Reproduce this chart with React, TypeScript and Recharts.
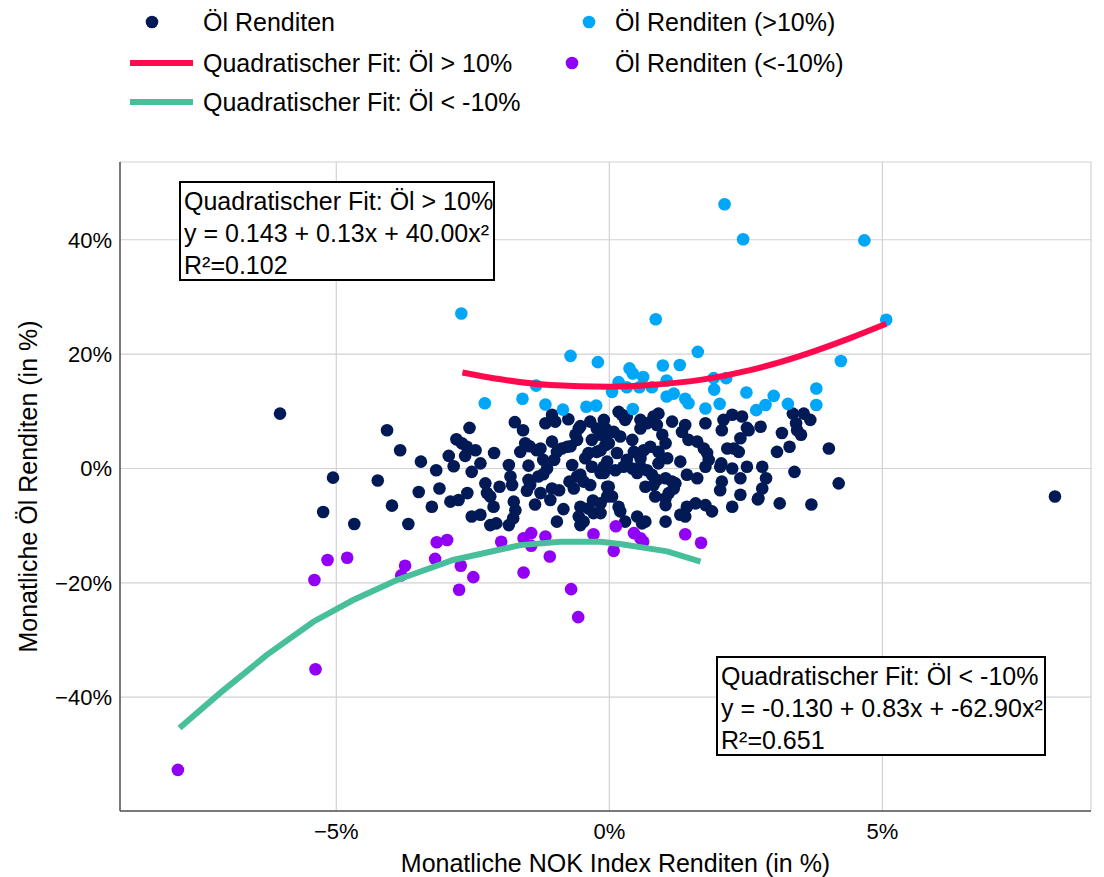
import React from "react";
import {
  CartesianGrid,
  Scatter,
  ScatterChart,
  XAxis,
  YAxis,
} from "recharts";

// monthly returns in %, [NOK index, oil]
const darkPoints: [number, number][] = [
  [-6.03, 9.6], [-5.24, -7.6], [-5.06, -1.6], [-4.67, -9.7],
  [-4.24, -2.1], [-4.07, 6.7], [-3.98, -6.5], [-3.83, 3.2], [-3.68, -9.7], [-3.49, -4.1],
  [-3.45, 1.2], [-3.25, -6.7], [-3.17, -0.3], [-3.11, -3.5], [-2.94, 2.2], [-2.91, -5.8],
  [-2.85, 0.4], [-2.8, 5.1], [-2.76, -5.5], [-2.7, 4.4], [-2.64, 2.2], [-2.61, 3.8],
  [-2.6, -4.3], [-2.56, 7.1], [-2.52, -0.6], [-2.52, -8.4], [-2.45, 3.2], [-2.36, 0.9],
  [-2.36, -8.1], [-2.27, -2.6], [-2.24, -4.3], [-2.18, -4.9], [-2.18, -9.9], [-2.12, -6.7], [-2.11, 2.7],
  [-2.07, -9.6], [-2.01, -3.2], [-1.84, 0.6], [-1.84, -9.9], [-1.81, -1.4], [-1.78, -2.9],
  [-1.76, -8.7], [-1.75, -5.8], [-1.73, 8.1], [-1.72, -7.3], [-1.63, 2.9], [-1.58, 6.7],
  [-1.54, 4.4], [-1.51, -3.9], [-1.48, 0.5], [-1.48, -2.0], [-1.46, 3.9], [-1.45, -2.9],
  [-1.36, -6.3], [-1.33, 3.2], [-1.3, -1.4], [-1.26, 3.5], [-1.26, -4.3], [-1.21, 1.5],
  [-1.21, -1.0], [-1.17, 7.9], [-1.14, 0.0], [-1.08, -5.5], [-1.05, 9.4], [-1.05, 4.7],
  [-1.05, -3.5], [-1.01, 1.5], [-0.99, 8.2], [-0.96, 2.9], [-0.96, -9.3], [-0.92, -3.8],
  [-0.87, 3.5], [-0.84, -7.1], [-0.77, 3.8], [-0.75, 8.6], [-0.73, -2.3], [-0.71, 3.9],
  [-0.68, 0.6], [-0.65, -3.5], [-0.62, 5.9], [-0.59, 5.0], [-0.59, -1.4], [-0.56, 7.0],
  [-0.56, -8.4], [-0.53, 7.4], [-0.53, -1.1], [-0.53, -6.7], [-0.53, -9.9], [-0.47, -2.3], [-0.47, -9.3],
  [-0.44, 1.8], [-0.38, 2.7], [-0.38, -7.0], [-0.35, 8.2], [-0.35, -2.9], [-0.32, 5.0],
  [-0.32, 0.3], [-0.3, -5.6], [-0.29, -7.8], [-0.23, 7.0], [-0.23, 2.9], [-0.16, 5.9],
  [-0.16, -0.8], [-0.16, -6.1], [-0.16, -7.8], [-0.1, 8.5], [-0.1, 0.3], [-0.04, 6.2],
  [-0.04, -3.2], [-0.04, -4.9], [-0.07, 4.1], [-0.07, 7.0], [0.17, 9.9], [0.29, 8.5],
  [0.23, 9.4], [0.32, 9.1], [0.08, 6.4], [0.2, 5.6], [-0.16, 3.2], [-0.01, 4.4], [0.14, 2.7],
  [-0.04, 1.2], [0.11, -0.3], [0.26, 0.3], [0.42, 5.0], [0.32, 1.5], [0.42, 0.0],
  [0.51, -0.8], [0.45, 2.9], [0.57, 1.8], [0.63, 3.2], [0.75, 3.8], [0.57, 8.5],
  [0.57, 7.0], [0.69, 7.9], [0.81, 9.1], [0.9, 9.6], [0.87, 7.6], [0.57, 0.3], [0.69, -0.3],
  [0.9, 2.9], [0.97, 5.9], [1.03, 4.4], [1.06, 1.8], [0.9, 0.9], [0.78, -1.1],
  [0.87, -2.0], [1.03, -1.7], [1.15, -2.3], [1.21, -2.6], [0.66, -3.2], [0.81, -2.9],
  [1.15, 8.2], [1.33, 6.4], [1.39, 7.6], [1.3, 1.2], [1.09, -4.3], [1.18, -3.5],
  [0.84, -4.9], [1.03, -5.2], [1.03, -6.4], [-0.1, -0.8], [-0.01, -3.2], [0.05, -4.9],
  [0.17, -6.7], [0.2, -7.5], [0.29, -9.3], [0.51, -8.4], [0.6, -9.6], [0.66, -9.3],
  [1.03, -9.3], [1.3, -8.1], [1.39, -8.4], [1.42, -6.7], [1.58, -6.1], [1.42, -1.1],
  [1.61, -1.7], [1.45, 5.0], [1.61, 4.7], [1.73, 3.5], [1.79, 2.7], [1.82, 1.5],
  [1.76, 0.3], [1.76, -6.4], [1.76, 7.9], [1.88, -7.5], [2.03, 0.3], [2.06, -2.3],
  [2.03, -3.8], [2.06, 6.7], [2.09, 8.5], [2.25, 9.4], [2.43, 9.1], [2.16, 3.5],
  [2.28, 3.5], [2.37, 2.9], [2.25, -6.7], [2.4, 5.3], [2.4, -1.7], [2.52, 0.3],
  [2.52, 7.1], [2.55, 6.7], [2.77, 7.3], [2.8, 0.3], [2.87, -1.7], [2.8, -3.5], [2.73, -5.2],
  [2.72, -5.4], [2.4, -4.6], [3.12, -6.1], [3.07, 2.9], [3.16, 6.2], [3.3, 3.8], [3.39, -0.6],
  [3.36, 9.6], [3.56, 9.6], [3.68, 8.5], [3.42, 7.9], [3.44, 6.7], [3.51, 5.9],
  [3.7, -6.3], [4.02, 3.5], [4.2, -2.6], [8.16, -4.9], [2.05, 0.9], [2.25, 0.0],
];

const highPoints: [number, number][] = [
  [-2.71, 27.1], [-2.28, 11.4], [-1.59, 12.2], [-1.34, 14.5], [-1.17, 11.2], [-0.85, 10.3],
  [-0.71, 19.7], [-0.42, 10.8], [-0.24, 11.0], [-0.21, 18.6], [0.05, 13.4], [0.17, 15.1],
  [0.32, 14.2], [0.37, 17.5], [0.43, 16.6], [0.43, 10.4], [0.55, 14.2], [0.62, 16.0],
  [0.78, 14.2], [0.85, 26.1], [0.98, 18.0], [1.05, 15.4], [1.05, 12.6], [1.18, 13.1],
  [1.29, 18.1], [1.39, 12.2], [1.45, 11.4], [1.62, 20.4], [1.76, 10.5], [1.91, 15.8],
  [1.92, 13.8], [2.02, 11.3], [2.11, 46.2], [2.14, 15.8], [2.45, 40.1], [2.51, 13.3],
  [2.69, 10.2], [2.86, 11.1], [3.01, 12.7], [3.27, 11.3], [3.79, 14.0], [3.79, 11.1],
  [4.24, 18.8], [4.67, 39.9], [5.07, 26.0],
];

const lowPoints: [number, number][] = [
  [-7.9, -52.7], [-5.38, -35.1], [-5.4, -19.5], [-5.16, -16.0], [-4.8, -15.6], [-3.81, -18.7],
  [-3.74, -17.0], [-3.19, -15.8], [-3.16, -12.9], [-2.97, -12.5], [-2.75, -21.2], [-2.72, -17.0],
  [-2.49, -19.0], [-1.98, -12.8], [-1.57, -12.2], [-1.57, -18.2], [-1.43, -11.3], [-1.43, -13.5],
  [-1.17, -11.9], [-1.09, -15.4], [-0.7, -21.1], [-0.57, -26.0], [-0.29, -11.5], [0.08, -14.4],
  [0.12, -10.1], [0.45, -11.3], [0.57, -12.2], [0.62, -12.8], [1.39, -11.5], [1.68, -13.0],
];

// fit curves
const highFit: [number, number][] = [
  [-2.69, 16.8], [-1.99, 15.6], [-1.08, 14.6], [0.0, 14.3], [0.75, 14.6],
  [1.67, 15.5], [2.58, 17.2], [3.5, 19.7], [4.41, 22.8], [5.07, 25.3],
];

const lowFit: [number, number][] = [
  [-7.87, -45.4], [-7.12, -39.2], [-6.27, -32.6], [-5.42, -26.8], [-4.69, -23.0],
  [-3.89, -19.5], [-2.86, -16.0], [-1.63, -13.4], [-0.9, -12.8], [-0.16, -12.8],
  [0.2, -13.2], [1.06, -14.5], [1.67, -16.3],
];

const xTicks = [-5, 0, 5];
const yTicks = [-40, -20, 0, 20, 40];

const fitBoxes = [
  ["Quadratischer Fit: Öl > 10%", "y = 0.143 + 0.13x + 40.00x²", "R²=0.102"],
  ["Quadratischer Fit: Öl < -10%", "y = -0.130 + 0.83x + -62.90x²", "R²=0.651"],
];

const COLORS = {
  dark: "#011a56",
  high: "#00a6f7",
  low: "#9100f5",
  highFit: "#ff0a4e",
  lowFit: "#48bf9b",
};

const FONT = "'Liberation Sans', Arial, sans-serif";

const toRows = (pts: [number, number][]) => pts.map(([x, y]) => ({ x, y }));

const pct = (v: number) => (v < 0 ? `\u2212${Math.abs(v)}%` : `${v}%`);

const dot = (color: string) => (p: any) =>
  <circle cx={p.cx} cy={p.cy} r={6.3} fill={color} />;

const noDot = () => <g />;

function LegendBlock() {
  return (
    <svg
      width={1104}
      height={125}
      style={{ position: "absolute", left: 0, top: 0, fontFamily: FONT }}
    >
      <circle cx={152} cy={22} r={6.3} fill={COLORS.dark} />
      <text x={203} y={22} fontSize={25} dominantBaseline="central">Öl Renditen</text>
      <line x1={130} x2={193} y1={63} y2={63} stroke={COLORS.highFit} strokeWidth={6} />
      <text x={203} y={63} fontSize={25} dominantBaseline="central">Quadratischer Fit: Öl &gt; 10%</text>
      <line x1={130} x2={193} y1={102} y2={102} stroke={COLORS.lowFit} strokeWidth={6} />
      <text x={203} y={102} fontSize={25} dominantBaseline="central">Quadratischer Fit: Öl &lt; -10%</text>
      <circle cx={589} cy={22} r={6.3} fill={COLORS.high} />
      <text x={615} y={22} fontSize={25} dominantBaseline="central">Öl Renditen (&gt;10%)</text>
      <circle cx={572} cy={63} r={6.3} fill={COLORS.low} />
      <text x={615} y={63} fontSize={25} dominantBaseline="central">Öl Renditen (&lt;-10%)</text>
    </svg>
  );
}

function FitBox({ lines, left, top, width }: { lines: string[]; left: number; top: number; width: number }) {
  return (
    <div
      style={{
        position: "absolute",
        left,
        top,
        width,
        height: 100,
        boxSizing: "border-box",
        border: "2px solid #000",
        background: "#fff",
        padding: "2px 0 0 3px",
        fontFamily: FONT,
        fontSize: 25,
        lineHeight: "32px",
        color: "#000",
        whiteSpace: "nowrap",
      }}
    >
      {lines.map((l) => (
        <div key={l}>{l}</div>
      ))}
    </div>
  );
}

export default function App() {
  return (
    <div style={{ position: "absolute", left: 0, top: 0, width: 1104, height: 877, background: "#fff" }}>
      <LegendBlock />
      <div style={{ position: "absolute", left: 0, top: 0 }}>
        <ScatterChart
          width={1104}
          height={877}
          margin={{ top: 162, right: 13, bottom: 0, left: 0 }}
          style={{ fontFamily: FONT }}
        >
          <CartesianGrid stroke="#d2d2d2" strokeWidth={1.2} />
          <XAxis
            type="number"
            dataKey="x"
            domain={[-8.96, 8.82]}
            ticks={xTicks}
            tickFormatter={pct}
            allowDataOverflow
            height={66}
            tickLine={false}
            axisLine={{ stroke: "#555", strokeWidth: 1.5 }}
            tick={{ fontSize: 22, fill: "#000" }}
            tickMargin={6}
            label={{
              value: "Monatliche NOK Index Renditen (in %)",
              position: "insideBottom",
              offset: 5,
              dx: 10,
              style: { fontSize: 25, fill: "#000" },
            }}
          />
          <YAxis
            type="number"
            dataKey="y"
            domain={[-59.9, 53.6]}
            ticks={yTicks}
            tickFormatter={pct}
            allowDataOverflow
            width={120}
            tickLine={false}
            axisLine={{ stroke: "#555", strokeWidth: 1.5 }}
            tick={{ fontSize: 22, fill: "#000" }}
            label={{
              value: "Monatliche Öl Renditen (in %)",
              angle: -90,
              position: "insideLeft",
              offset: 28,
              style: { fontSize: 25, fill: "#000", textAnchor: "middle" },
            }}
          />
          <Scatter data={toRows(darkPoints)} shape={dot(COLORS.dark)} isAnimationActive={false} />
          <Scatter data={toRows(highPoints)} shape={dot(COLORS.high)} isAnimationActive={false} />
          <Scatter data={toRows(lowPoints)} shape={dot(COLORS.low)} isAnimationActive={false} />
          <Scatter
            data={toRows(highFit)}
            line={{ stroke: COLORS.highFit, strokeWidth: 6 }}
            lineJointType="monotoneX"
            shape={noDot}
            isAnimationActive={false}
          />
          <Scatter
            data={toRows(lowFit)}
            line={{ stroke: COLORS.lowFit, strokeWidth: 6 }}
            lineJointType="linear"
            shape={noDot}
            isAnimationActive={false}
          />
        </ScatterChart>
      </div>
      <FitBox lines={fitBoxes[0]} left={179} top={181} width={316} />
      <FitBox lines={fitBoxes[1]} left={716} top={656} width={330} />
    </div>
  );
}
